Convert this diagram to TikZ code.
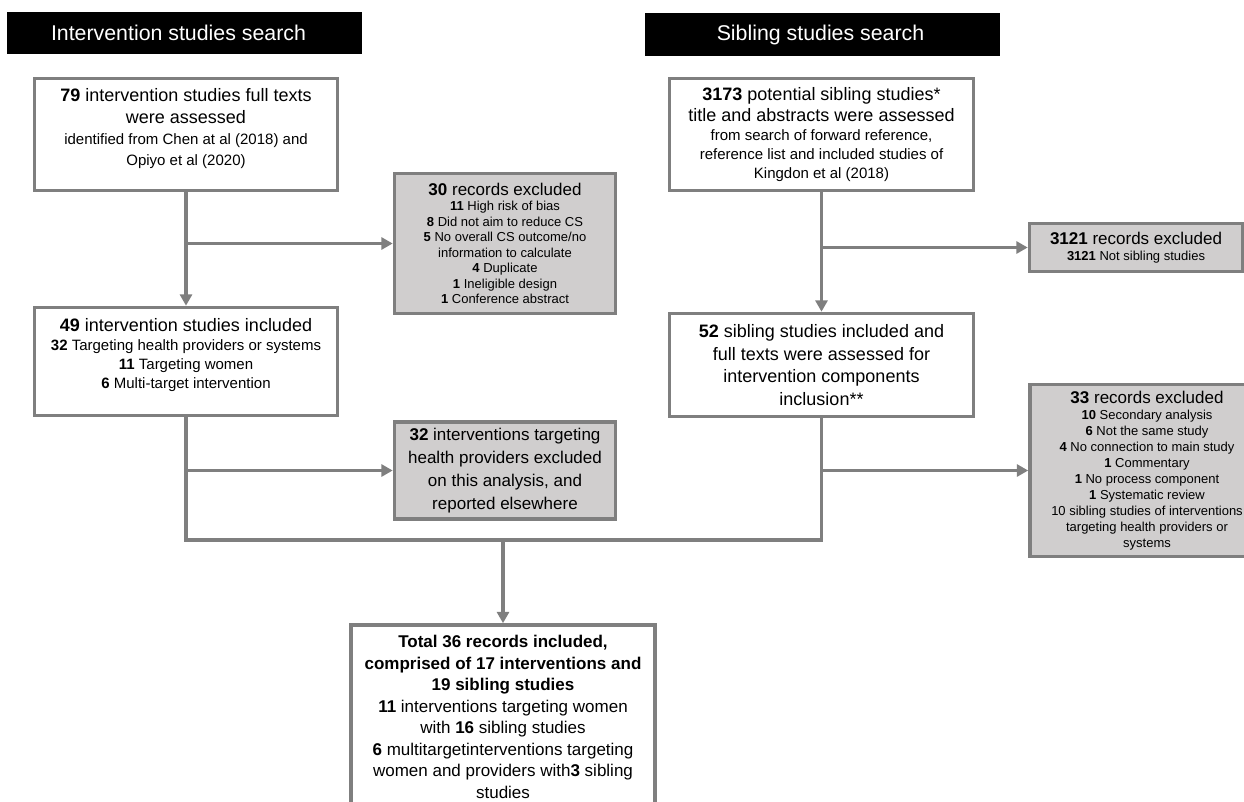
\documentclass[tikz,border=0pt]{standalone}
\usepackage{fontspec}
\setmainfont{Liberation Sans}
\usetikzlibrary{arrows.meta}
\definecolor{lineg}{RGB}{127,127,127}
\definecolor{fillg}{RGB}{208,206,206}
\newcommand\fhead{\fontsize{16}{19}\selectfont}
\newcommand\fmain{\fontsize{13.5}{16.5}\selectfont}
\newcommand\fmid{\fontsize{12.75}{17}\selectfont}
\newcommand\fsmall{\fontsize{11.25}{14.25}\selectfont}
\newcommand\ftiny{\fontsize{9.75}{11.6}\selectfont}
\newcommand\ftinyb{\fontsize{9.75}{12}\selectfont}
\begin{document}
\begin{tikzpicture}[x=0.75pt,y=-0.75pt,
  sz/.style 2 args={minimum width=#1*0.75pt, minimum height=#2*0.75pt},
  hdr/.style={fill=black, text=white, inner sep=0pt, font=\fhead},
  wbox/.style={draw=lineg, line width=2.7pt, fill=white, inner sep=0pt, align=center},
  gbox/.style={wbox, fill=fillg},
  txt/.style={align=center, inner sep=0pt},
  conn/.style={draw=lineg, line width=2.6pt},
  arr/.style={conn, -{Triangle[length=8.5pt,width=9pt]}}
]
\useasboundingbox (0,0) rectangle (1244,801);
\clip (0,0) rectangle (1244,801);

% headers
\node[hdr, sz={355}{42}] (h1) at (184.5,33) {Intervention studies search\hspace*{9pt}};
\node[hdr, sz={355}{43}] (h2) at (822.5,34.5) {Sibling studies search\hspace*{3pt}};

% left column
\node[wbox, sz={303}{112}] (b1) at (186,134.5) {};
\node[txt, font=\fmain] (b1t) at (186,128.5) {\textbf{79} intervention studies full texts\\ were assessed\\[-1pt] \fsmall identified from Chen at al (2018) and\\[-1pt] \fsmall Opiyo et al (2020)};

\node[gbox, sz={221}{140}, font=\ftiny] (b30) at (505,243.5) {\fmid\textbf{30} records excluded\\ \textbf{11} High risk of bias\\ \textbf{8} Did not aim to reduce CS\\ \textbf{5} No overall CS outcome/no\\ information to calculate\\ \textbf{4} Duplicate\\ \textbf{1} Ineligible design\\ \textbf{1} Conference abstract};

\node[wbox, sz={303}{108}] (b49) at (186,361.5) {};
\node[txt, font=\fsmall] (b49t) at (186,355) {\fmain\textbf{49} intervention studies included\\ \textbf{32} Targeting health providers or systems\\ \textbf{11} Targeting women\\ \textbf{6} Multi-target intervention};

\node[gbox, sz={221}{97}, font=\fontsize{12.75}{17.25}\selectfont] (b32) at (505,470.5) {\textbf{32} interventions targeting\\ health providers excluded\\ on this analysis, and\\ reported elsewhere};

% right column
\node[wbox, sz={304}{112}, font=\fsmall] (b3173) at (821.5,134.5) {\fmain\textbf{3173} potential sibling studies*\\[1.5pt] \fmain title and abstracts were assessed\\ from search of forward reference,\\ reference list and included studies of\\ Kingdon et al (2018)\\[-12pt]\mbox{}};

\node[gbox, sz={213}{48}, font=\ftiny] (b3121) at (1136,247.5) {\fmid\textbf{3121} records excluded\\ \textbf{3121} Not sibling studies};

\node[wbox, sz={304}{103}, font=\fontsize{13.5}{16.9}\selectfont] (b52) at (821.5,365) {\textbf{52} sibling studies included and\\ full texts were assessed for\\ intervention components\\ inclusion**};

\node[gbox, sz={234}{172}, font=\ftinyb] (b33) at (1147,470.5) {\fmid\textbf{33} records excluded\\ \textbf{10} Secondary analysis\\ \textbf{6} Not the same study\\ \textbf{4} No connection to main study\\ \textbf{1} Commentary\\ \textbf{1} No process component\\ \textbf{1} Systematic review\\ 10 sibling studies of interventions\\ targeting health providers or\\ systems};

% total
\node[wbox, sz={304}{184}, font=\fontsize{12.75}{16.1}\selectfont] (tot) at (503,717) {\textbf{Total 36 records included,}\\ \textbf{comprised of 17 interventions and}\\ \textbf{19 sibling studies}\\ \textbf{11} interventions targeting women\\ with \textbf{16} sibling studies\\ \textbf{6} multitargetinterventions targeting\\ women and providers with\textbf{3} sibling\\ studies};

% connectors
\coordinate (j1) at (b1.south |- b30.west);
\coordinate (j2) at (b49.south |- b32.west);
\coordinate (j3) at (b3173.south |- b3121.west);
\coordinate (j4) at (b52.south |- b33.west);
\coordinate (m) at (503,540);

\draw[arr] (b1.south) -- (b49.north);
\draw[arr] (j1) -- (b30.west);
\draw[arr] (j2) -- (b32.west);
\draw[conn] (b49.south) |- (m);
\draw[conn] (b52.south) |- (m);
\draw[arr] (m) -- (tot.north);
\draw[arr] (b3173.south) -- (b52.north);
\draw[arr] (j3) -- (b3121.west);
\draw[arr] (j4) -- (b33.west);
\end{tikzpicture}
\end{document}
